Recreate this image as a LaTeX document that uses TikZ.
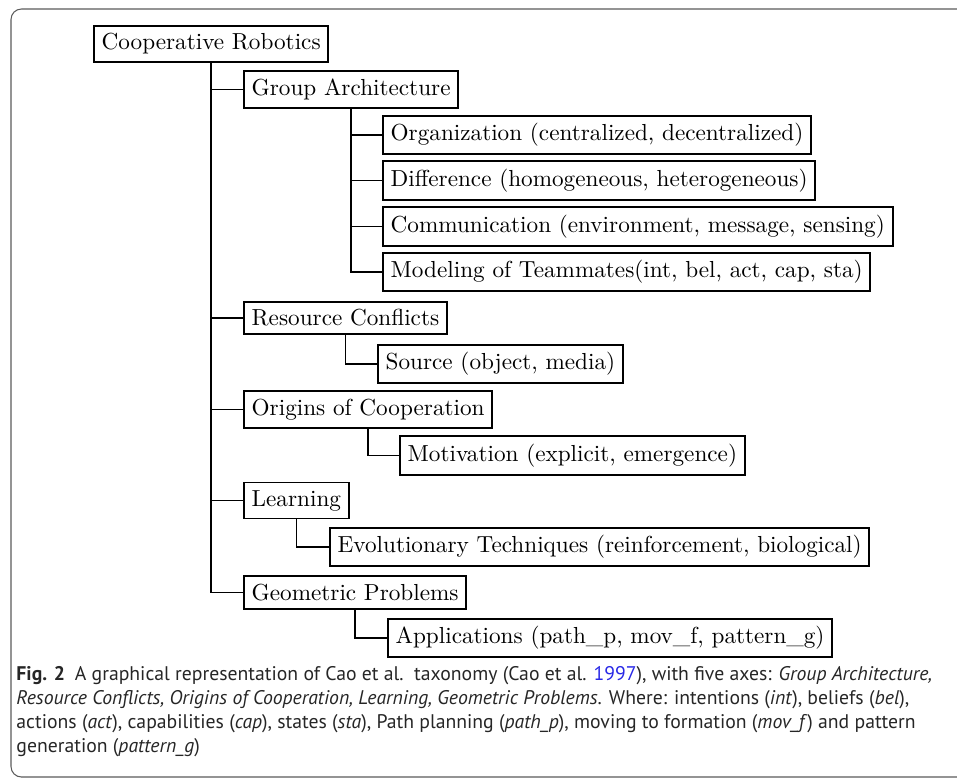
\documentclass[tikz,border=0pt]{standalone}
\usepackage{fontspec}
\newfontfamily\captionfont{PT Sans}
\usepackage{xcolor}
\definecolor{citeblue}{RGB}{40,40,230}
\definecolor{framegray}{RGB}{90,90,90}
\tikzset{
    taxbox/.style={draw, thick, rectangle, anchor=west, inner sep=3.33pt, font=\fontsize{10}{12}\selectfont},
    taxline/.style={semithick}
}

\begin{document}
\begin{tikzpicture}[x=0.431pt,y=-0.431pt]
\useasboundingbox (0,0) rectangle (957,778);
\begin{scope}
\clip (0,0) rectangle (957,778);
\draw[framegray, line width=0.45pt, rounded corners=4.5pt] (11,9) rectangle (1000,777); % frame
\end{scope}

%%% ROOT AND AXES %%%
\node[taxbox] (root) at (93,44) {Cooperative Robotics};
\node[taxbox] (ga) at (243,89.5) {Group Architecture};
\node[taxbox] (rc) at (243,318) {Resource Conflicts};
\node[taxbox] (oc) at (243,409.5) {Origins of Cooperation};
\node[taxbox] (learn) at (243,500.5) {Learning};
\node[taxbox] (gp) at (243,592.5) {Geometric Problems};

%%% SUB-ITEMS %%%
\node[taxbox] (org) at (382,135) {Organization (centralized, decentralized)};
\node[taxbox] (diff) at (382,180.5) {Difference (homogeneous, heterogeneous)};
\node[taxbox] (comm) at (382,226.5) {Communication (environment, message, sensing)};
\node[taxbox] (model) at (382,272) {Modeling of Teammates(int, bel, act, cap, sta)};
\node[taxbox] (src) at (377,364) {Source (object, media)};
\node[taxbox] (motiv) at (399,455.5) {Motivation (explicit, emergence)};
\node[taxbox] (evol) at (329,547) {Evolutionary Techniques (reinforcement, biological)};
\node[taxbox] (apps) at (387,638) {Applications (path\_p, mov\_f, pattern\_g)};

%%% CONNECTORS %%%
\foreach \child in {ga,rc,oc,learn,gp}
    \draw[taxline] (root.south) |- (\child.west); % trunk
\foreach \child in {org,diff,comm,model}
    \draw[taxline] (ga.south) |- (\child.west); % group architecture
\draw[taxline] (rc.south) |- (src.west);
\draw[taxline] (oc.south) |- (motiv.west);
\draw[taxline] (learn.south) |- (evol.west);
\draw[taxline] (gp.south) |- (apps.west);

%%% CAPTION %%% (base of the node is the last line)
\node[anchor=base west, align=left, inner sep=0pt, text=black!85,
      font=\captionfont\fontsize{8.5}{10.34}\selectfont] (caption) at (16,752)
{\textbf{Fig. 2}\enspace A graphical representation of Cao et al.\ \ taxonomy (Cao et al. {\color{citeblue}1997}), with five axes: \textit{Group Architecture,}\\
\textit{Resource Conflicts, Origins of Cooperation, Learning, Geometric Problems}. Where: intentions (\textit{int}), beliefs (\textit{bel}),\\
actions (\textit{act}), capabilities (\textit{cap}), states (\textit{sta}), Path planning (\textit{path\_p}), moving to formation (\textit{mov\_f}) and pattern\\
generation (\textit{pattern\_g})};
\end{tikzpicture}
\end{document}
